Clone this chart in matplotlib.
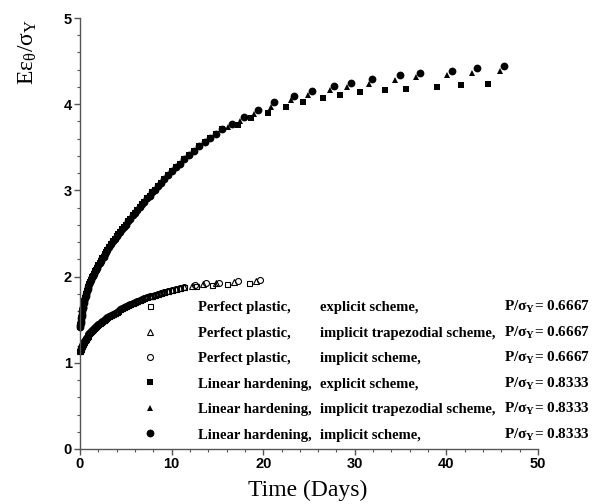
import matplotlib
matplotlib.use('Agg')
import matplotlib.pyplot as plt
from matplotlib.ticker import MultipleLocator

plt.rcParams['mathtext.fontset'] = 'custom'
plt.rcParams['mathtext.rm'] = 'Liberation Serif'
plt.rcParams['mathtext.it'] = 'Liberation Serif:italic'
plt.rcParams['mathtext.bf'] = 'Liberation Serif:bold'

# ---------------- data ----------------
# Linear hardening, dense early part (all three schemes coincide)
lh_dense_t = [0.0, 0.03, 0.06, 0.1, 0.14, 0.18, 0.22, 0.27, 0.32, 0.37,
              0.43, 0.49, 0.55, 0.62, 0.69, 0.76, 0.84, 0.92, 1.0, 1.1,
              1.2, 1.3, 1.4, 1.5, 1.62, 1.74, 1.86, 2.0, 2.14, 2.28,
              2.42, 2.57, 2.72, 2.87, 3.0, 3.2, 3.4, 3.6, 3.8, 4.0,
              4.2, 4.4, 4.6, 4.8, 5.0, 5.25, 5.5, 5.75, 6.0, 6.25,
              6.5, 6.75, 7.0, 7.3, 7.6, 7.9, 8.2, 8.5, 8.85, 9.2,
              9.6, 10.0, 10.45, 10.9, 11.4, 11.9, 12.45, 13.0, 13.6, 14.2,
              14.85, 15.5]
lh_dense_y = [1.42, 1.44, 1.46, 1.49, 1.52, 1.54, 1.57, 1.60, 1.63, 1.65,
              1.69, 1.72, 1.75, 1.78, 1.80, 1.83, 1.86, 1.88, 1.91, 1.94,
              1.96, 1.99, 2.01, 2.03, 2.06, 2.08, 2.10, 2.13, 2.16, 2.18,
              2.21, 2.23, 2.26, 2.29, 2.31, 2.34, 2.38, 2.41, 2.44, 2.47,
              2.50, 2.52, 2.55, 2.57, 2.60, 2.64, 2.67, 2.71, 2.74, 2.77,
              2.81, 2.84, 2.87, 2.91, 2.94, 2.98, 3.01, 3.05, 3.09, 3.13,
              3.18, 3.22, 3.27, 3.31, 3.36, 3.41, 3.46, 3.51, 3.56, 3.61,
              3.66, 3.71]
lh_imp_tail_t = [16.6, 17.9, 19.4, 21.2, 23.4, 25.3, 27.7, 29.6, 31.9, 34.9, 37.1, 40.6, 43.3, 46.3]
lh_imp_tail_y = [3.77, 3.85, 3.93, 4.02, 4.10, 4.15, 4.21, 4.25, 4.29, 4.34, 4.36, 4.39, 4.42, 4.44]
lh_trap_tail_t = [16.2, 17.5, 19.0, 20.8, 23.0, 24.9, 27.3, 29.2, 31.5, 34.4, 36.7, 40.1, 42.8, 45.8]
lh_trap_tail_y = [3.73, 3.81, 3.89, 3.97, 4.05, 4.11, 4.16, 4.20, 4.24, 4.28, 4.31, 4.34, 4.36, 4.38]
lh_exp_tail_t = [17.2, 18.7, 20.5, 22.5, 24.3, 26.5, 28.4, 30.6, 33.3, 35.6, 39.0, 41.6, 44.5]
lh_exp_tail_y = [3.76, 3.84, 3.90, 3.97, 4.03, 4.07, 4.11, 4.14, 4.16, 4.18, 4.20, 4.22, 4.23]

# Perfect plastic, dense early part
pp_dense_t = [0.0, 0.03, 0.06, 0.1, 0.14, 0.18, 0.22, 0.27, 0.32, 0.37,
              0.43, 0.49, 0.55, 0.62, 0.69, 0.76, 0.84, 0.92, 1.0, 1.1,
              1.2, 1.3, 1.4, 1.5, 1.62, 1.74, 1.86, 2.0, 2.14, 2.28,
              2.42, 2.57, 2.72, 2.87, 3.0, 3.2, 3.4, 3.6, 3.8, 4.0,
              4.2, 4.4, 4.6, 4.8, 5.0, 5.25, 5.5, 5.75, 6.0, 6.25,
              6.5, 6.75, 7.0, 7.3, 7.6, 7.9, 8.2, 8.5, 8.85, 9.2,
              9.6, 10.0, 10.45, 10.9, 11.4]
pp_dense_y = [1.14, 1.15, 1.16, 1.17, 1.18, 1.19, 1.20, 1.21, 1.22, 1.23,
              1.24, 1.25, 1.26, 1.275, 1.29, 1.30, 1.315, 1.33, 1.34, 1.355,
              1.365, 1.38, 1.39, 1.40, 1.41, 1.425, 1.435, 1.45, 1.46, 1.475,
              1.485, 1.495, 1.51, 1.52, 1.53, 1.545, 1.555, 1.57, 1.58, 1.595,
              1.605, 1.62, 1.63, 1.645, 1.655, 1.67, 1.68, 1.695, 1.71, 1.72,
              1.73, 1.74, 1.75, 1.76, 1.77, 1.78, 1.79, 1.80, 1.81, 1.82,
              1.83, 1.845, 1.855, 1.865, 1.88]
pp_imp_tail_t = [12.6, 13.8, 15.2, 17.2, 19.6]
pp_imp_tail_y = [1.90, 1.92, 1.93, 1.95, 1.96]
pp_trap_tail_t = [12.2, 13.4, 14.9, 16.8, 19.2]
pp_trap_tail_y = [1.89, 1.91, 1.92, 1.94, 1.95]
pp_exp_tail_t = [12.7, 14.4, 16.1, 18.5]
pp_exp_tail_y = [1.89, 1.90, 1.91, 1.92]

label_col1 = ["Perfect plastic,", "Perfect plastic,", "Perfect plastic,",
              "Linear hardening,", "Linear hardening,", "Linear hardening,"]
label_col2 = ["explicit scheme,", "implicit trapezodial scheme,", "implicit scheme,",
              "explicit scheme,", "implicit trapezodial scheme,", "implicit scheme,"]
label_col3 = ["0.6667", "0.6667", "0.6667", "0.8333", "0.8333", "0.8333"]

x_ticks = [0, 10, 20, 30, 40, 50]
y_ticks = [0, 1, 2, 3, 4, 5]

# ---------------- figure ----------------
W, H = 601, 504
fig = plt.figure(figsize=(W / 100, H / 100), dpi=100)
ax = fig.add_axes([80 / W, 1 - 449 / H, (538 - 80) / W, (449 - 18) / H])

serif = 'Liberation Serif'
sans = 'Liberation Sans'

open_kw = dict(linestyle='none', markerfacecolor='none', markeredgecolor='black', markeredgewidth=0.8)
fill_kw = dict(linestyle='none', color='black', markeredgewidth=0)

h1, = ax.plot(pp_dense_t + pp_exp_tail_t, pp_dense_y + pp_exp_tail_y, marker='s', markersize=3.6, **open_kw)
h2, = ax.plot(pp_dense_t + pp_trap_tail_t, pp_dense_y + pp_trap_tail_y, marker='^', markersize=4.2, **open_kw)
h3, = ax.plot(pp_dense_t + pp_imp_tail_t, pp_dense_y + pp_imp_tail_y, marker='o', markersize=4.3, **open_kw)
h4, = ax.plot(lh_dense_t + lh_exp_tail_t, lh_dense_y + lh_exp_tail_y, marker='s', markersize=4.0, **fill_kw)
h5, = ax.plot(lh_dense_t + lh_trap_tail_t, lh_dense_y + lh_trap_tail_y, marker='^', markersize=5.0, **fill_kw)
h6, = ax.plot(lh_dense_t + lh_imp_tail_t, lh_dense_y + lh_imp_tail_y, marker='o', markersize=5.6, **fill_kw)
for h in (h1, h2, h3, h4, h5, h6):
    h.set_clip_on(False)

ax.set_xlim(0, 50)
ax.set_ylim(0, 5)
ax.set_xticks(x_ticks)
ax.set_yticks(y_ticks)
ax.xaxis.set_minor_locator(MultipleLocator(2))
ax.yaxis.set_minor_locator(MultipleLocator(0.2))

for s in ('top', 'right'):
    ax.spines[s].set_visible(False)
for s in ('left', 'bottom'):
    ax.spines[s].set_color('#555555')
    ax.spines[s].set_linewidth(1.0)

ax.tick_params(which='major', direction='out', length=4, width=1.0, color='#555555', pad=2)
ax.tick_params(which='minor', direction='out', length=2.2, width=0.8, color='#555555')
for lab in ax.get_xticklabels() + ax.get_yticklabels():
    lab.set_fontfamily(sans)
    lab.set_fontweight('bold')
    lab.set_fontsize(10.5)

ax.text(-0.113, 0.921, r'E$\mathrm{ε}_{\mathrm{θ}}$/$\mathrm{σ}_{\mathrm{Y}}$', transform=ax.transAxes,
        rotation=90, ha='center', va='center', fontsize=17, family=serif)
ax.text(0.498, -0.095, 'Time (Days)', transform=ax.transAxes, ha='center', va='center',
        fontsize=17, family=serif)

leg_fs = 10.5
leg_w = 'bold'
leg = ax.legend([h1, h2, h3, h4, h5, h6], label_col1, loc='upper left',
                bbox_to_anchor=(135.4 / W, 1 - 301 / H), bbox_transform=fig.transFigure,
                frameon=False, numpoints=1, handlelength=2.0, handletextpad=2.29,
                labelspacing=0.84, borderpad=0, borderaxespad=0,
                prop={'family': serif, 'size': leg_fs, 'weight': leg_w})

fig.canvas.draw()
for i, t in enumerate(leg.get_texts()):
    xd, yd = t.get_transform().transform(t.get_position())
    yf = yd / H
    fig.text(320 / W, yf, label_col2[i], ha='left', va='baseline', family=serif,
             fontsize=leg_fs, fontweight=leg_w)
    fig.text(590 / W, yf, r'P/$\mathbf{σ}_{\mathbf{Y}}$= ' + label_col3[i], ha='right', va='baseline',
             family=serif, fontsize=11, fontweight=leg_w)

fig.savefig('out.png', dpi=100)
